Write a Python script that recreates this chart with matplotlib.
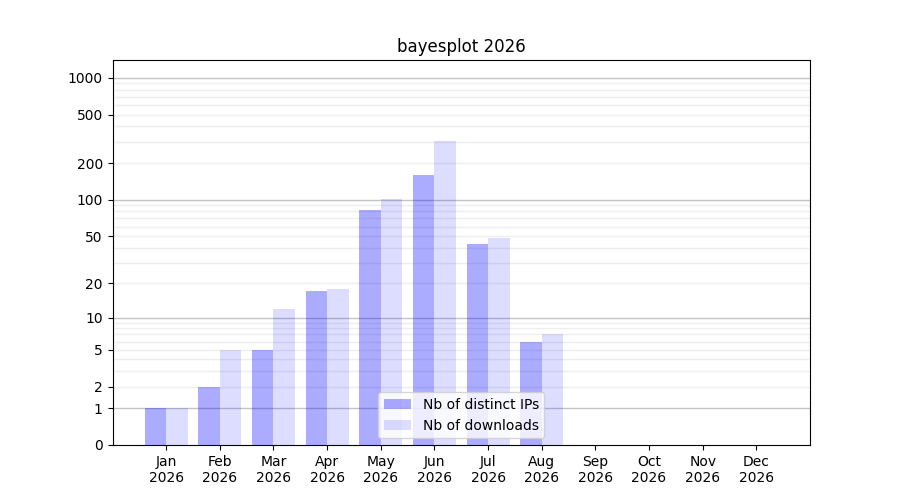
import numpy as np
import matplotlib
matplotlib.use("Agg")
import matplotlib.pyplot as plt

# Monthly stats
months = ['Jan', 'Feb', 'Mar', 'Apr', 'May', 'Jun', 'Jul', 'Aug', 'Sep', 'Oct', 'Nov', 'Dec']
year = 2026
distinct_ips = [1, 2, 5, 17, 83, 160, 43, 6, 0, 0, 0, 0]
downloads = [1, 5, 12, 18, 102, 305, 48, 7, 0, 0, 0, 0]

labelled_ticks = [0, 1, 2, 5, 10, 20, 50, 100, 200, 500, 1000]
decade_lines = [1, 10, 100, 1000]


def forward(x):
    return np.log10(1 + np.asarray(x, dtype=float))


def inverse(y):
    return 10 ** np.asarray(y, dtype=float) - 1


fig, ax = plt.subplots(figsize=(9, 5), dpi=100)
x = np.arange(len(months))
w = 0.4
# semi-transparent bars so the grid shows through
ax.bar(x - w / 2, distinct_ips, width=w, color='blue', alpha=0.33, label='Nb of distinct IPs', zorder=3)
ax.bar(x + w / 2, downloads, width=w, color='blue', alpha=0.133, label='Nb of downloads', zorder=3)

ax.set_yscale('function', functions=(forward, inverse))
ax.set_ylim(0, 1400)
ax.set_xlim(-1, 12)

ax.set_yticks(labelled_ticks)
ax.set_yticklabels([str(t) for t in labelled_ticks])
minor = [m * 10 ** d for d in range(0, 4) for m in range(2, 10) if m * 10 ** d < 1400]
ax.set_yticks(minor, minor=True)
ax.tick_params(axis='y', which='minor', length=0)

# light grid at every sub-decade step, darker at decades
for v in minor:
    ax.axhline(v, color='#eeeeee', linewidth=1, zorder=1)
for v in decade_lines:
    ax.axhline(v, color='#c4c4c4', linewidth=1, zorder=1)

ax.set_xticks(x)
ax.set_xticklabels([f'{m}\n{year}' for m in months])
ax.set_title(f'bayesplot {year}')
ax.legend(loc='lower center')

fig.savefig('out.png')
